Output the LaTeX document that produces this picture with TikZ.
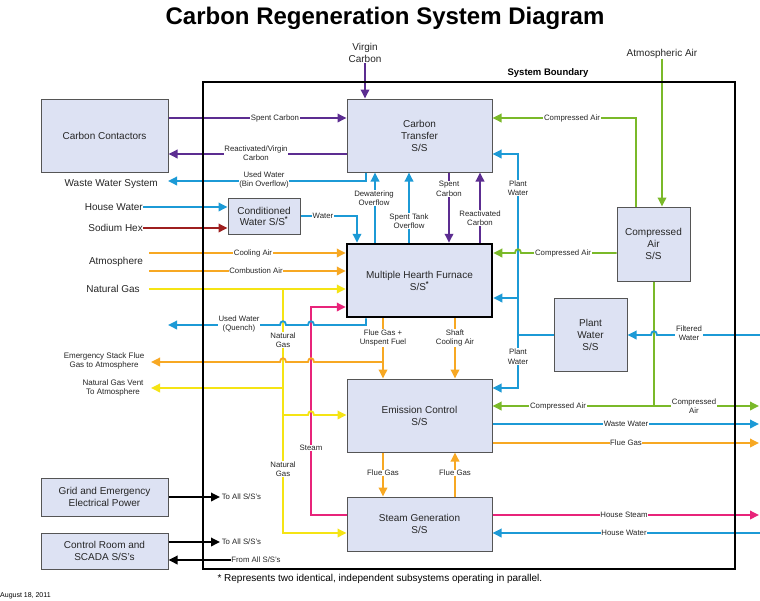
\documentclass[tikz,border=0pt]{standalone}
\usepackage{fontspec}
\setmainfont{Liberation Sans}
\usetikzlibrary{arrows.meta}
\definecolor{cpurple}{RGB}{92,45,145}
\definecolor{cblue}{RGB}{28,154,214}
\definecolor{cgreen}{RGB}{122,185,41}
\definecolor{corange}{RGB}{247,168,35}
\definecolor{cyellow}{RGB}{245,228,20}
\definecolor{cpink}{RGB}{232,36,122}
\definecolor{cred}{RGB}{158,31,31}
\definecolor{boxfill}{RGB}{221,226,243}
\definecolor{boxline}{RGB}{85,85,85}
\begin{document}
\begin{tikzpicture}[x=1pt,y=-1pt,
 ssbox/.style={draw=boxline, fill=boxfill, line width=1pt, align=center, inner sep=0pt, font=\fontsize{10}{12}\selectfont, text=black!85},
 lbl/.style={fill=white, inner sep=0.6pt, align=center, font=\fontsize{7.8}{9.5}\selectfont, text=black!85},
 ext/.style={align=center, inner sep=0pt, font=\fontsize{10}{12}\selectfont, text=black!85},
 extsm/.style={align=center, inner sep=0pt, font=\fontsize{8}{9.5}\selectfont, text=black!85},
 lineflow/.style={line width=1.8pt},
 arrflow/.style={line width=1.8pt, -{Triangle[length=9pt,width=8.5pt]}},
]
\useasboundingbox (0,0) rectangle (760,600);
\fill[white] (0,0) rectangle (760,600);

% title
\node[font=\fontsize{24}{28}\selectfont\bfseries] (title) at (385,18) {Carbon Regeneration System Diagram};
\node[font=\fontsize{9.5}{11}\selectfont\bfseries] (sb) at (548,73) {System Boundary};

% boxes
\node[ssbox, minimum width=127pt, minimum height=73pt] (cc) at (104.5,135.5) {Carbon Contactors};
\node[ssbox, minimum width=145pt, minimum height=73pt] (ct) at (419.5,135.5) {Carbon\\Transfer\\S/S};
\node[ssbox, minimum width=72pt, minimum height=36pt, font=\fontsize{10}{11}\selectfont] (cw) at (264,216) {Conditioned\\Water S/S\textsuperscript{\textbf{*}}};
\node[ssbox, draw=black, line width=2.5pt, minimum width=145pt, minimum height=73pt] (mhf) at (419.5,280.5) {Multiple Hearth Furnace\\S/S\textsuperscript{\textbf{*}}};
\node[ssbox, minimum width=73pt, minimum height=74pt] (ca) at (653.5,244) {Compressed\\Air\\S/S};
\node[ssbox, minimum width=73pt, minimum height=73pt] (pw) at (590.5,334.5) {Plant\\Water\\S/S};
\node[ssbox, minimum width=145pt, minimum height=73pt] (ec) at (419.5,415.5) {Emission Control\\S/S};
\node[ssbox, minimum width=145pt, minimum height=54pt] (sg) at (419.5,524) {Steam Generation\\S/S};
\node[ssbox, minimum width=127pt, minimum height=38pt] (gp) at (104.5,497) {Grid and Emergency\\Electrical Power};
\node[ssbox, minimum width=127pt, minimum height=36pt] (cr) at (104.5,551) {Control Room and\\SCADA S/S's};

% outside texts
\node[ext] (vc) at (365,53) {Virgin\\Carbon};
\node[ext] (aa) at (662,54) {Atmospheric Air};
\node[ext, anchor=east] (wws) at (158,184) {Waste Water System};
\node[ext, anchor=east] (hw) at (143,207) {House Water};
\node[ext, anchor=east] (sh) at (143,228) {Sodium Hex};
\node[ext] (atm) at (116,262) {Atmosphere};
\node[ext] (ng) at (113,289) {Natural Gas};
\node[extsm] (emg) at (104,361) {Emergency Stack Flue\\Gas to Atmosphere};
\node[extsm] (ngvt) at (113,388) {Natural Gas Vent\\To Atmosphere};

% free ends
\coordinate (wwsE) at (168,181);
\coordinate (coolS) at (149,253);
\coordinate (combS) at (149,271);
\coordinate (ngS) at (149,289);
\coordinate (uwqE) at (168,325);
\coordinate (emgE) at (151,362);
\coordinate (ngvE) at (151,388);
\coordinate (fgj) at (383,362);
\coordinate (ngj) at (283,289);
\coordinate (ngv) at (283,388);
\coordinate (nge) at (283,415);
\coordinate (pwj) at (518,335);
\coordinate (pwm) at (518,298);
\coordinate (cajn) at (654,406);
\coordinate (caout) at (759,406);
\coordinate (fwin) at (760,335);
\coordinate (wwout) at (759,424);
\coordinate (fgout) at (759,443);
\coordinate (hsout) at (759,515);
\coordinate (hwin) at (760,533);
\coordinate (gpE) at (220,497);
\coordinate (crE) at (220,542);

% carbon
\draw[arrflow,cpurple] (cc.east |- 0,118) -- (ct.west |- 0,118);
\draw[arrflow,cpurple] (ct.west |- 0,154) -- (cc.east |- 0,154);
\draw[arrflow,cpurple] (vc.south) -- (ct.north -| vc.south);
\draw[arrflow,cpurple] (ct.south -| 449,0) -- (mhf.north -| 449,0);
\draw[arrflow,cpurple] (mhf.north -| 480,0) -- (ct.south -| 480,0);

% water
\draw[arrflow,cblue] (ct.south -| 366,0) |- (wwsE);
\draw[arrflow,cblue] (hw.east) -- (cw.west |- 0,207);
\draw[arrflow,cred] (sh.east) -- (cw.west |- 0,228);
\draw[arrflow,cblue] (cw.east |- 0,216) -| (mhf.north -| 357,0);
\draw[arrflow,cblue] (mhf.north -| 375,0) -- (ct.south -| 375,0);
\draw[arrflow,cblue] (mhf.north -| 409,0) -- (ct.south -| 409,0);

% plant water bus
\draw[lineflow,cblue] (pw.west |- 0,335) -- (pwj);
\draw[arrflow,cblue] (pwj) |- (ct.east |- 0,154);
\draw[arrflow,cblue] (pwm) -- (mhf.east |- 0,298);
\draw[arrflow,cblue] (pwj) |- (ec.east |- 0,388);

% compressed air
\draw[arrflow,cgreen] (aa.south) -- (ca.north -| aa.south);
\draw[arrflow,cgreen] (ca.north -| 636,0) |- (ct.east |- 0,118);
\draw[lineflow,cgreen] (ca.south -| 654,0) -- (cajn);
\draw[arrflow,cgreen] (cajn) -- (ec.east |- 0,406);
\draw[arrflow,cgreen] (cajn) -- (caout);
\draw[arrflow,cgreen] (ca.west |- 0,253) -- (521,253) .. controls (521,248) and (515,248) .. (515,253) -- (mhf.east |- 0,253);
\draw[arrflow,cblue] (fwin) -- (657,335) .. controls (657,330) and (651,330) .. (651,335) -- (pw.east |- 0,335);

% air into furnace
\draw[arrflow,corange] (coolS) -- (mhf.west |- 0,253);
\draw[arrflow,corange] (combS) -- (mhf.west |- 0,271);
\draw[arrflow,cyellow] (ngS) -- (mhf.west |- 0,289);

% verticals (natural gas, steam)
\draw[arrflow,cyellow] (ngj) |- (sg.west |- 0,533);
\draw[arrflow,cyellow] (ngv) -- (ngvE);
\draw[arrflow,cpink] (sg.west |- 0,515) -| (311,307) -- (mhf.west |- 0,307);

% hopping horizontals
\draw[arrflow,cyellow] (nge) -- (308,415) .. controls (308,410) and (314,410) .. (314,415) -- (ec.west |- 0,415);
\draw[arrflow,cblue] (mhf.south -| 366,0) -- (366,325) -- (314,325) .. controls (314,320) and (308,320) .. (308,325) -- (286,325) .. controls (286,320) and (280,320) .. (280,325) -- (uwqE);
\draw[arrflow,corange] (fgj) -- (314,362) .. controls (314,357) and (308,357) .. (308,362) -- (286,362) .. controls (286,357) and (280,357) .. (280,362) -- (emgE);

% furnace to emission control
\draw[arrflow,corange] (mhf.south -| 383,0) -- (ec.north -| 383,0);
\draw[arrflow,corange] (mhf.south -| 455,0) -- (ec.north -| 455,0);
\draw[arrflow,corange] (ec.south -| 383,0) -- (sg.north -| 383,0);
\draw[arrflow,corange] (sg.north -| 455,0) -- (ec.south -| 455,0);

% outputs right
\draw[arrflow,cblue] (ec.east |- 0,424) -- (wwout);
\draw[arrflow,corange] (ec.east |- 0,443) -- (fgout);
\draw[arrflow,cpink] (sg.east |- 0,515) -- (hsout);
\draw[arrflow,cblue] (hwin) -- (sg.east |- 0,533);

% power and control
\node[lbl, anchor=west] (ta1) at (221,497) {To All S/S's};
\node[lbl, anchor=west] (ta2) at (221,542) {To All S/S's};
\node[lbl] (fa) at (256,560) {From All S/S's};
\draw[arrflow,black] (gp.east |- 0,497) -- (gpE);
\draw[arrflow,black] (cr.east |- 0,542) -- (crE);
\draw[arrflow,black] (fa.west) -- (cr.east |- 0,560);

% system boundary
\draw[line width=2.5pt] (203,82) rectangle (735,569);

% labels on lines
\node[lbl] (l1) at (275,118) {Spent Carbon};
\node[lbl] (l2) at (256,153) {Reactivated/Virgin\\Carbon};
\node[lbl] (l3) at (264,180) {Used Water\\(Bin Overflow)};
\node[lbl] (l4) at (572,118) {Compressed Air};
\node[lbl] (l5) at (518,188) {Plant\\Water};
\node[lbl] (l6) at (374,198) {Dewatering\\Overflow};
\node[lbl] (l7) at (449,189) {Spent\\Carbon};
\node[lbl] (l8) at (409,221) {Spent Tank\\Overflow};
\node[lbl] (l9) at (480,218) {Reactivated\\Carbon};
\node[lbl] (l10) at (323,216) {Water};
\node[lbl] (l11) at (253,253) {Cooling Air};
\node[lbl] (l12) at (256,271) {Combustion Air};
\node[lbl] (l13) at (563,253) {Compressed Air};
\node[lbl] (l14) at (239,324) {Used Water\\(Quench)};
\node[lbl] (l15) at (283,340) {Natural\\Gas};
\node[lbl] (l16) at (383,338) {Flue Gas +\\Unspent Fuel};
\node[lbl] (l17) at (455,338) {Shaft\\Cooling Air};
\node[lbl] (l18) at (689,333) {Filtered\\Water};
\node[lbl] (l19) at (518,356.5) {Plant\\Water};
\node[lbl] (l20) at (558,406) {Compressed Air};
\node[lbl] (l21) at (694,406) {Compressed\\Air};
\node[lbl] (l22) at (626,424) {Waste Water};
\node[lbl] (l23) at (626,443) {Flue Gas};
\node[lbl] (l24) at (311,448) {Steam};
\node[lbl] (l25) at (283,469) {Natural\\Gas};
\node[lbl] (l26) at (383,473) {Flue Gas};
\node[lbl] (l27) at (455,473) {Flue Gas};
\node[lbl] (l28) at (624,515) {House Steam};
\node[lbl] (l29) at (624,533) {House Water};

% footnote and date
\node[font=\fontsize{10}{12}\selectfont, anchor=west] (fn) at (214,579) {* Represents two identical, independent subsystems operating in parallel.};
\node[font=\fontsize{7}{8}\selectfont, anchor=west, inner sep=0pt] (date) at (0,596) {August 18, 2011};
\end{tikzpicture}
\end{document}
